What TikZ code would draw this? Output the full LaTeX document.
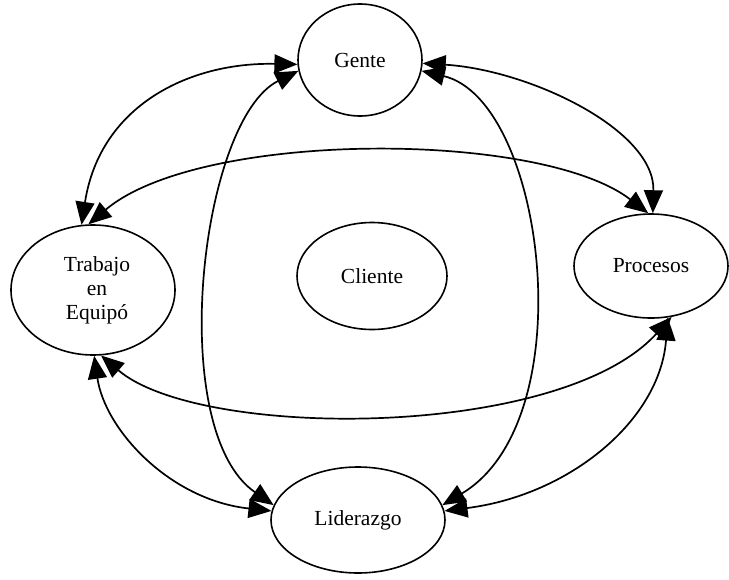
\documentclass[tikz,border=0pt]{standalone}
\usepackage{fontspec}
\setmainfont{Liberation Serif}
\usetikzlibrary{arrows.meta,shapes.geometric}
\begin{document}
\begin{tikzpicture}[x=1pt,y=-1pt,
  oval/.style={draw, ellipse, line width=1.6pt, inner sep=0pt, align=center,
    font=\fontsize{21.5}{24}\selectfont},
  link/.style={line width=1.7pt,
    {Triangle[length=23pt,width=19pt]}-{Triangle[length=23pt,width=19pt]}}]
\fill[white] (0,0) rectangle (729,579);
\useasboundingbox (0,0) rectangle (729,579);

% the five ovals
\node[oval, minimum width=124pt, minimum height=112pt] (g) at (360,60) {Gente};
\node[oval, minimum width=164pt, minimum height=130pt] (t) at (93,290)
  {\hspace*{8pt}Trabajo\\\hspace*{8pt}en\\\hspace*{8pt}Equipó};
\node[oval, minimum width=154pt, minimum height=104pt] (p) at (651,266) {Procesos};
\node[oval, minimum width=174pt, minimum height=106pt] (l) at (358,520) {Liderazgo};
\node[oval, minimum width=150pt, minimum height=107pt] (c) at (372,276) {Cliente};

% two-way links between the outer ovals
\draw[link] (g.184) .. controls (190,62) and (100,105) .. (t.100);
\draw[link] (g.190) .. controls (200,120) and (165,430) .. (l.170);
\draw[link] (g.350) .. controls (545,100) and (585,420) .. (l.10);
\draw[link] (g.357) .. controls (530,70) and (655,130) .. (p.88);
\draw[link] (t.94) .. controls (200,130) and (540,130) .. (p.93);
\draw[link] (t.277) .. controls (200,440) and (560,440) .. (p.292);
\draw[link] (t.271) .. controls (105,430) and (170,500) .. (l.174);
\draw[link] (p.288) .. controls (660,420) and (570,495) .. (l.6);
\end{tikzpicture}
\end{document}
